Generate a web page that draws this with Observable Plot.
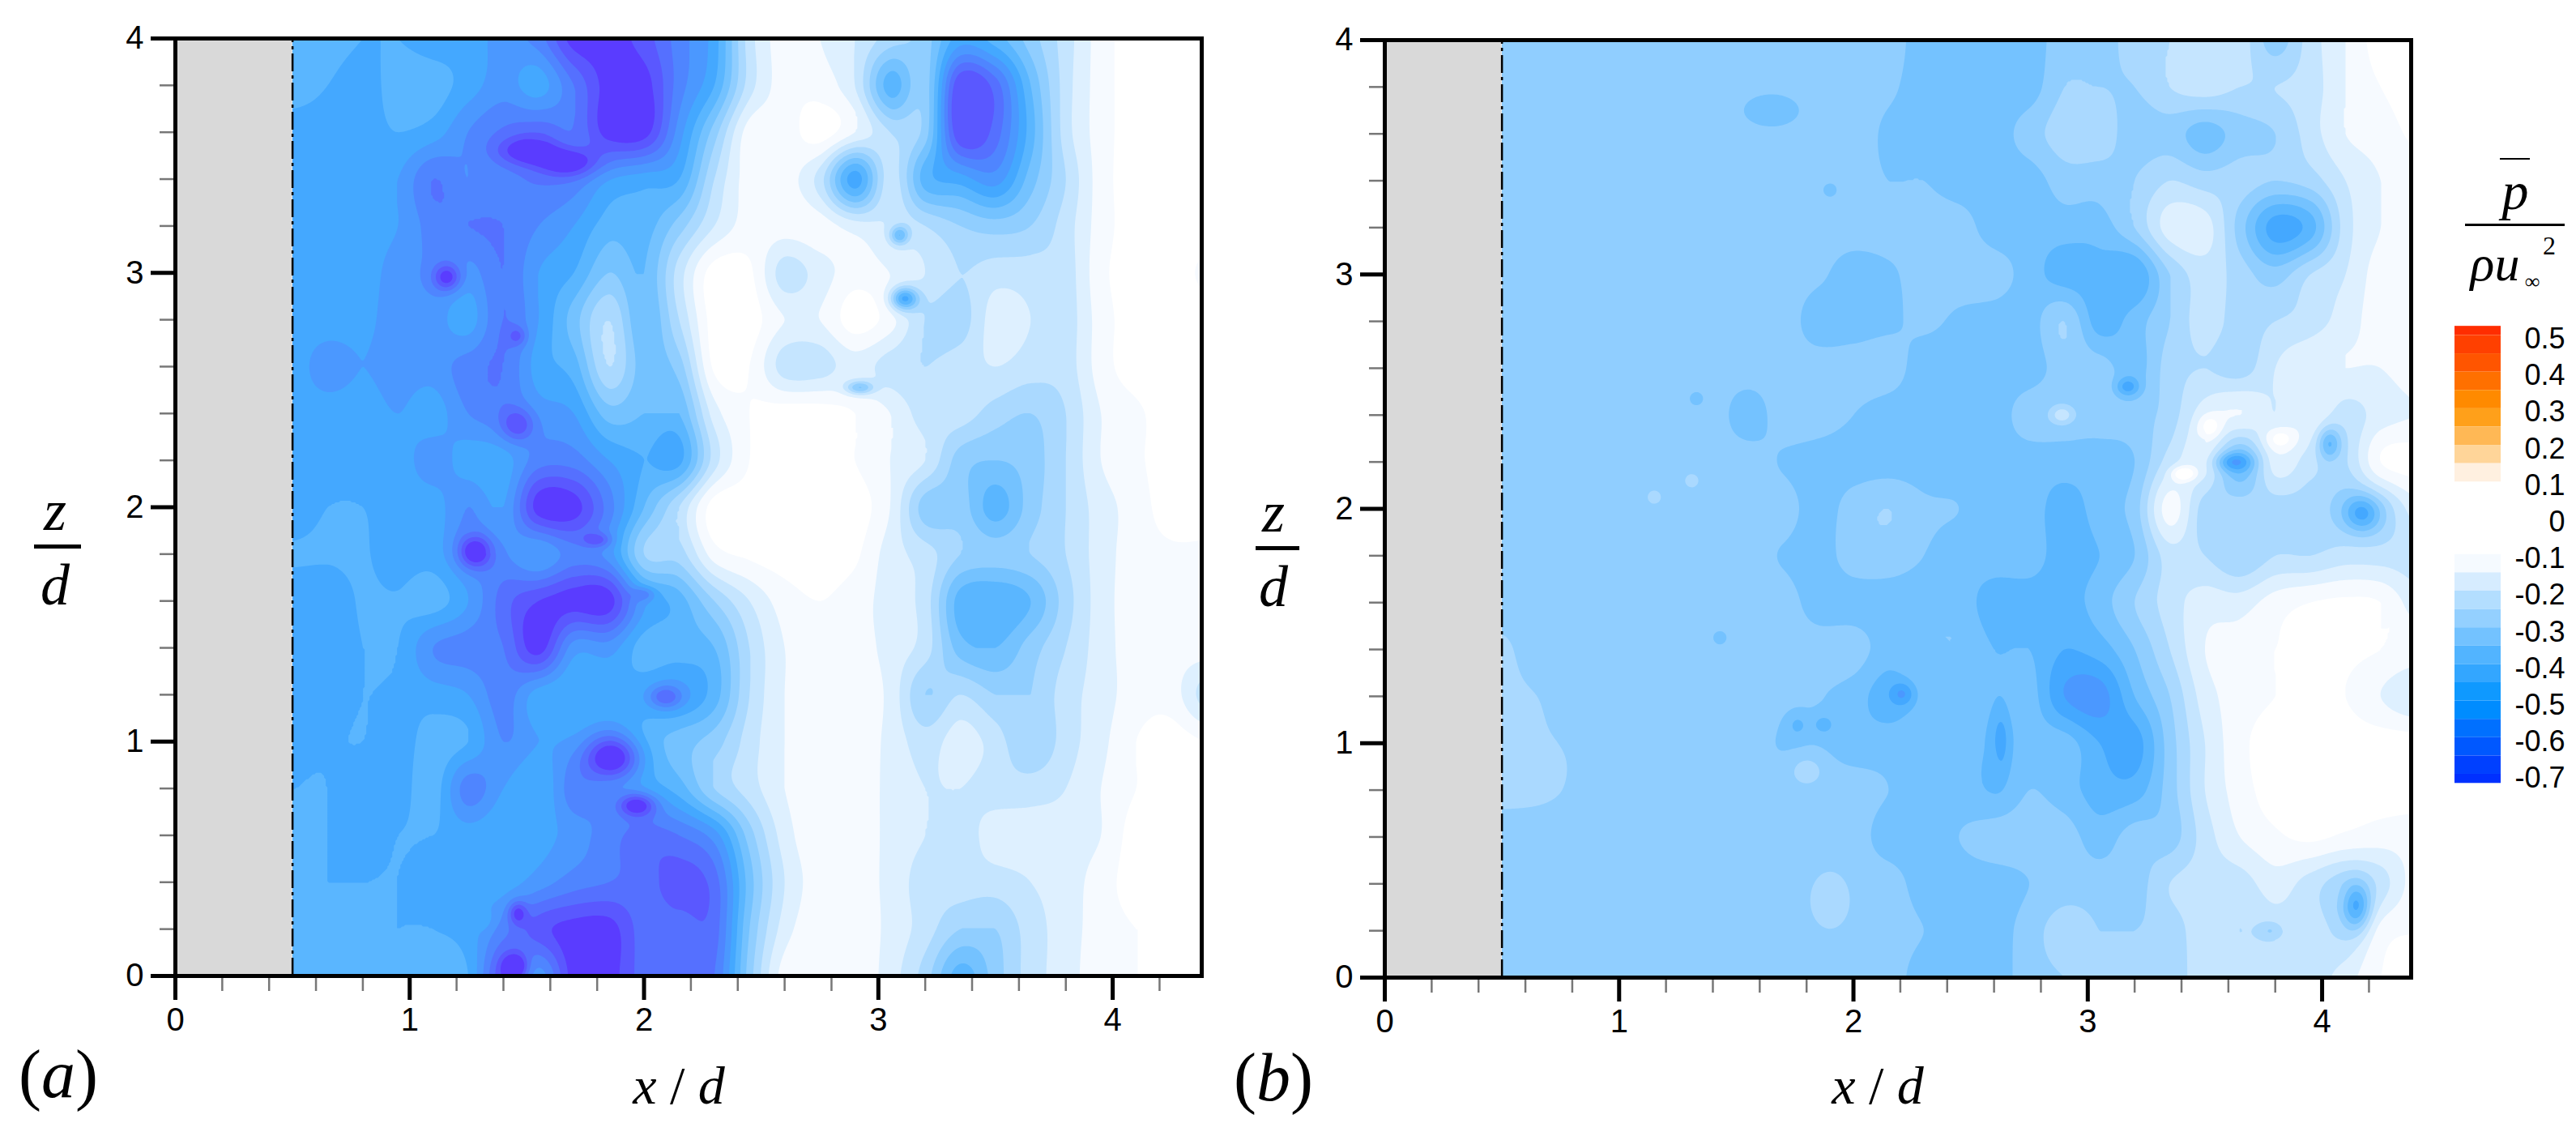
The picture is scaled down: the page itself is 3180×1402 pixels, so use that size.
<!DOCTYPE html>
<html><head><meta charset="utf-8">
<script src="https://cdn.jsdelivr.net/npm/d3@7"></script>
<script src="https://cdn.jsdelivr.net/npm/@observablehq/plot@0.6"></script>
<style>
html,body{margin:0;padding:0;background:#fff}
#page{position:relative;width:3180px;height:1402px;overflow:hidden;background:#fff}
#page svg{position:absolute;background:transparent;overflow:visible}
.t{position:absolute;font-family:"Liberation Serif",serif;font-style:italic;color:#000;white-space:pre;line-height:1;transform:translate(-50%,-50%)}
.bar{position:absolute;background:#000}
</style></head><body><div id="page"></div>
<script>
const gridX = [.5,.65,.8,.95,1.1,1.25,1.4,1.55,1.7,1.85,2,2.15,2.3,2.45,2.6,2.75,2.9,3.05,3.2,3.35,3.5,3.65,3.8,3.95,4.1,4.25,4.4];
const gridZ = [4,3.8,3.6,3.4,3.2,3,2.8,2.6,2.4,2.2,2,1.8,1.6,1.4,1.2,1,.8,.6,.4,.2,0];
// Panel (a): contour band number at each grid point (pressure = -0.05 x band), rows from z=4 down
const panelA = [
[7,7,7.5,7.5,8,8,9,10,13,13,12,10,8,3,1,1.5,2.5,4,5,8,7,5,3,1,0,0,0],
[7,7.5,8,7,7,8,9,8,10.5,13,13,10,7.5,3,1,1,2.5,7,5,12.5,11,6.5,3,1,0,0,0],
[8,8,8,7.5,8,9.5,10.5,11,10.5,13,13,9,5,1,1,0,1.5,3.5,5,12.5,11,7,3,1,0,0,0],
[8,8,8,8.5,10.5,9.5,10,10.5,10,8.5,8,7.5,3.5,1,1,3,8,3,7,8,9,6,3.5,1,0,0,0],
[8,8,8,8.5,10,10.5,10.5,9.5,8.5,7,7,5,2.5,1,1,1,2,2.5,3.5,4.5,5,4.5,3,1,0,0,0],
[8,8,8,9,9.5,9,10.5,8.5,7.5,5.5,6.5,3,0,.3,3,2,1,1.5,2.5,3.5,3,3,3,.8,0,0,.7],
[8,8,8.2,9,9,8,10.5,8.5,6,3.5,6.5,3.5,0,0,1.5,1.5,0,1,3.5,4,2,2.5,3,1,0,0,0],
[8,9,8.5,9,9,10,10.5,8,7,3.5,6,5,.3,.5,3,3,2,3,3.5,3,2.5,3,3,1,0,0,0],
[8,8,8,8.5,8,9.5,10,9,8.5,6,6.5,6.5,2,.5,0,0,.5,1.5,3,3,4,4.5,3.5,1.5,.7,0,0],
[8,8,8,8,9,8,8,10,10,8.5,7.5,7.8,3,.5,0,0,.5,1.5,2.5,5,5.5,5,3.5,1.5,.7,0,0],
[8,7.5,7.5,8,8,9.5,8.5,13,13,10,6.5,3.5,0,0,0,0,0,1.5,5,5,7,5,3.5,2,1,0,0],
[7.4,7.4,7.4,8,8,9.5,9.5,8.5,10,9,4.5,4,1,.3,0,0,.3,2,3,4.5,5,4.5,3.5,2,1,.7,.7],
[8,8,7.4,7.4,7,8.5,11,12.5,13,13,8.5,7,4.5,2.5,1,.5,1,2,3,7,7.5,6.5,4,2,1,1,1],
[8,8,7.5,7.5,9.5,10,10.5,13,9,9,7,7,6.5,3.5,1.5,1,1,1.9,3,6,6.5,5,3.5,2,1,1,1],
[8,8,7.5,7.7,8,8.5,10,8,7.5,7.5,8,8.5,7,3.5,1.5,.8,.8,1.8,4.5,3.5,4.5,4.5,3,2,1,1,3],
[7.7,7.6,7.5,8,7,7.5,9.5,8.5,8.5,9,7,6,5,3,1.5,.8,.8,1.8,3,2,3,4.5,3,1.8,.5,0,.5],
[7.5,7.5,8,8,7,10,8.5,7.5,10,9,8,7,4.5,3,1.5,.8,.8,1.8,2.5,2.5,3,3,2.5,1.5,.5,0,0],
[7.5,7.5,8,7.5,7.5,8,7.5,8,9,10,11,10.5,9,5,2,.8,.8,1.8,2.5,3,2,2,2,1.5,0,0,0],
[7.5,7.5,7.5,7.5,8,8,8,9,10,10.5,11,12,11,6,2.5,1,1,1.8,3,3,3,2.5,2,1,0,0,.5],
[7.5,7.5,7.5,7.5,7.5,8,10,12,13,13,11,11,11,5.5,2,.8,.8,1.8,3,4.5,4.5,3,2,1,.5,.5,.5],
[7.5,7.5,7.5,7.5,7,7.5,12,9,13,13,11,10.5,10.5,5,1,.8,.8,2,4,7,5,3,2,.8,.5,.5,.5]
];
// Panel (b), same grid and same band numbers
const panelB = [
[5,5,5,5,5,5,5,5,5,5,5,5,6,6,6,6,5,5,4,3.5,3.5,3,5,3,1.5,0,0],
[5,5,5,5,5,5,5,5,5,5,5,5.3,6,6,6,6,4.5,4.5,4.5,3.5,3,3.5,3.5,3,1.5,.5,0],
[5,5,5,5,5,5,5,5,5,5,5,5.7,6,6,6,5,4,4,5,5,6,5,4.5,3,1.5,1,.3],
[5,5,5,5,5,5,5,5,5,5,5,5.5,5.5,6,6,6,5,5,4.5,3.5,4,4,4.5,4,2.5,1.5,1],
[5,5,5,5,5,5,5,5,5,5,5,5,5,5,6,6,6,6,4.5,2,2,5,8,7,3,1.5,.7],
[5,5,5,5,5,5,5,5,5,5.3,6,5.7,5,5,5,6,7,7,7.5,4.5,3,4,5,3.5,2.5,1,1],
[5,5,5,5,5,5,5,5,5,6,6,5.7,5.3,5.7,6,6,4.5,7,6,4.5,3,4,3.5,3,2,1,1],
[5,5,5,5,5,5,5,5,5,5,5,5,6,6,6,6,5,5,6,4,3.5,4,2.5,1.5,1.5,1.5,1],
[5,5,5,5,5,5,5,6,5,5,5.5,6,6,6,6,5,5,5,5,4,2,1.5,2.5,1.5,3,2,1.5],
[5,5,5,5,5,5,5,5,5.6,6,6,6,6,6,6,6,6,6,5.5,3,2,6,2,3,3.5,.5,0],
[5,5,5,5,5,5,5,5,5,6,5,4.5,5.3,5.5,6,6,7,6,5,1,4,4,4,4,4.5,4,2],
[5,5,5,5,5,5,5,5,5.6,6,5,5,5.5,6,6,6,7,6.5,5.5,3,3.5,4.5,3.5,3.5,3,3,3],
[5,5,5,5,5,5,5,5,5,6,6,6,6,6,7,7,7,6,4.5,3,2,2,1,.5,.3,.5,2],
[4.3,5,5,5,5,5,5,5,5,5,5,6,5.5,5.5,6.5,6.5,7.5,7,5.5,3.5,1.5,1,.5,.3,.3,.5,1],
[4.3,4.5,5,5,5,5,5,5,5,5.4,6,7,6,6,6.2,6,8.5,9,6.5,4.5,2,1,.5,.3,.5,1.5,2.5],
[4.3,4.4,4.6,5,5,5,5,5,5.6,5.6,6,6,6,6,6.5,6,6,7.5,8,5,2.5,.8,0,0,0,0,0],
[4.2,4.3,4.6,5,5,5,5,5,5,5,5,5.5,6,6,6.5,5.5,6,7,7,5,2.5,1,0,0,0,0,0],
[5,5,5,5,5,5,5,5,5,5,5,6,6,5.5,5,5,5,6,5,5,3,1.5,.7,.3,.7,1,1],
[5,5,5,5,5,5,5,5,5,5,5,5,6,6,6,5.5,5,5,5,3.5,3,3,2,3,4,3,1],
[5,5,5,5,5,5,5,5,5,5,5,5,5.5,6,6,5,4,4.5,4.5,4,3,3.5,3,3,3.5,1,.5],
[5,5,5,5,5,5,5,5,5,5,5,5,6,6,6,5,4.5,4.5,4,4,3,3,3,3,2,.5,.3]
];
// Small closed features too narrow for the grid: x, z, x radius, z radius, band change
const spotsA = [
[1.16,2.98,.06,.06,4],[1.28,1.81,.07,.07,4.5],[1.87,.93,.12,.09,5],[1.97,.73,.08,.05,4.5],
[3.11,2.89,.06,.05,6],[3.09,3.16,.04,.04,4],[2.92,2.51,.06,.03,4],[1.45,.04,.05,.05,4],
[1.5,3.52,.13,.06,3],[1.68,3.47,.12,.06,3.5],[2.09,1.19,.07,.05,3],[1.46,2.73,.04,.04,2],[1.46,2.35,.07,.07,3],
[1.8,1.86,.06,.03,2.5],[2,1.63,.05,.03,2],[1.46,.27,.04,.05,3],[1.31,.24,.04,.04,-1]
];
const spotsB = [
[1.65,3.7,.12,.07,1.3],[3.62,2.2,.08,.04,3],[1.9,.33,.09,.13,-1.2],[1.8,.89,.08,.07,-1.2],
[1.33,2.47,.03,.03,1.2],[1.31,2.12,.03,.03,-1.2],[1.15,2.05,.03,.03,-1.2],[1.43,1.45,.03,.03,1.2],
[1.9,3.36,.03,.03,1.2],[2.21,1.21,.05,.05,2],[2.63,1.02,.04,.15,1.5],[1.76,1.08,.05,.06,1.2],[1.87,1.08,.05,.05,1.2],
[3.17,2.52,.05,.04,2.5],[2.89,2.4,.05,.04,-2.2],[3.52,2.35,.05,.05,-2],[3.82,2.3,.07,.05,-2],[4.03,2.28,.05,.07,3.5],
[3.41,2.15,.05,.03,-3],[4.17,1.98,.08,.08,3.5],[4.15,.3,.06,.1,4],[3.78,.2,.05,.04,1.5]
];
const bandColors = ["#ffffff","#f6faff","#def0ff","#c5e5ff","#aad9ff","#90ceff","#74c2ff","#5ab6ff","#44a8ff","#4b98ff","#4f85ff","#5570ff","#5a58ff","#5a3cff"];
const xMax = 4.38;
const xMajor = [0,1,2,3,4];
const xMinor = [.2,.4,.6,.8,1.2,1.4,1.6,1.8,2.2,2.4,2.6,2.8,3.2,3.4,3.6,3.8,4.2];
const zMajor = [0,1,2,3,4];
const zMinor = [.2,.4,.6,.8,1.2,1.4,1.6,1.8,2.2,2.4,2.6,2.8,3.2,3.4,3.6,3.8];
const gray = [{x1:0,x2:.5,y1:0,y2:4}];
// Colour bar: band edges as drawn and their colours, with the printed labels
const warmEdges = [.535,.51,.46,.41,.36,.31,.26,.21,.16,.11];
const warmColors = ["#ff2d00","#ff4000","#ff5500","#ff7000","#ff8a00","#ffa01a","#ffb855","#ffd599","#fff0e0"];
const coldEdges = [-.088,-.138,-.188,-.238,-.288,-.338,-.388,-.438,-.488,-.538,-.588,-.638,-.688,-.713];
const coldColors = ["#f5faff","#d6ecff","#b3deff","#94d0ff","#73c2ff","#52b4ff","#33a6ff","#0f99ff","#008cff","#0070ff","#0058ff","#0040ff","#0030ff"];
const barLabels = [.5,.4,.3,.2,.1,0,-.1,-.2,-.3,-.4,-.5,-.6,-.7];

function bandsOf(edges, colors){return colors.map((c,i)=>({y1:edges[i],y2:edges[i+1],c}));}
const bandThresholds = [-5,...d3.range(13,0,-1).map(k=>-0.05*(k-.5))];
const colorScale = {type:"threshold",domain:bandThresholds.slice(1),range:bandColors.slice().reverse()};

function cr(a,b,c,d,t){return b+.5*t*(c-a+t*(2*a-5*b+4*c-d+t*(3*(b-c)+d-a)));}
function field(rows,spots){
  const nx=gridX.length,nz=gridZ.length,dx=.15,dz=.2;
  return (x,z)=>{
    const fx=Math.min(nx-1.001,Math.max(0,(x-.5)/dx)),fz=Math.min(nz-1.001,Math.max(0,(4-z)/dz));
    const i=Math.floor(fx),j=Math.floor(fz),tx=fx-i,tz=fz-j;
    const row=r=>{const R=rows[Math.max(0,Math.min(nz-1,r))],g=k=>R[Math.max(0,Math.min(nx-1,k))];return cr(g(i-1),g(i),g(i+1),g(i+2),tx);};
    let v=cr(row(j-1),row(j),row(j+1),row(j+2),tz);
    const c=[rows[j][i],rows[j][i+1],rows[j+1][i],rows[j+1][i+1]];
    v=Math.max(Math.min(...c),Math.min(Math.max(...c),v));
    for(const [sx,sz,rx,rz,d] of spots){const a=(x-sx)/rx,b=(z-sz)/rz;v+=d*Math.exp(-(a*a+b*b));}
    return -0.05*v;
  };
}
const sans="'Liberation Sans',Arial,sans-serif";
function panel(rows,spots,left,right,top,bottom){
  return Plot.plot({
    width:right+20,height:bottom+100,
    marginLeft:left,marginRight:20,marginTop:top,marginBottom:100,
    x:{domain:[0,xMax],label:null,axis:null},y:{domain:[0,4],label:null,axis:null},
    color:colorScale,style:{background:"transparent",overflow:"visible",fontFamily:sans},
    marks:[
      Plot.contour({x1:.5,x2:xMax,y1:0,y2:4,value:field(rows,spots),thresholds:bandThresholds,fill:"value",stroke:"none",pixelSize:2}),
      Plot.rect(gray,{x1:"x1",x2:"x2",y1:"y1",y2:"y2",fill:"#d9d9d9"}),
      Plot.ruleX([.5],{y1:0,y2:4,stroke:"#000",strokeWidth:2.5,strokeDasharray:"22,5,4,5"}),
      Plot.axisX({anchor:"bottom",ticks:xMinor,tickSize:19,tickFormat:()=>"",stroke:"#777",strokeWidth:2.5,label:null}),
      Plot.axisY({anchor:"left",ticks:zMinor,tickSize:19,tickFormat:()=>"",stroke:"#777",strokeWidth:2.5,label:null}),
      Plot.axisX({anchor:"bottom",ticks:xMajor,tickSize:30,tickPadding:9,tickFormat:d3.format("d"),stroke:"#000",strokeWidth:5,label:null,fontSize:40,fontFamily:sans,fill:"#000"}),
      Plot.axisY({anchor:"left",ticks:zMajor,tickSize:30,tickPadding:9,tickFormat:d3.format("d"),stroke:"#000",strokeWidth:5,label:null,fontSize:40,fontFamily:sans,fill:"#000"}),
      Plot.frame({stroke:"#000",strokeWidth:5})
    ]});
}
const page=document.getElementById("page");
const plotA=panel(panelA,spotsA,216,1483,47,1204);plotA.style.left="0px";plotA.style.top="0px";page.appendChild(plotA);
const plotB=panel(panelB,spotsB,1709-1500,2976-1500,49,1206);plotB.style.left="1500px";plotB.style.top="0px";page.appendChild(plotB);

const barPlot=Plot.plot({
  width:180,height:600,marginLeft:30,marginRight:93,marginTop:0,marginBottom:0,
  x:{domain:[0,1],axis:null},y:{domain:[.5398,-.7876],range:[0,600],axis:null},
  color:{type:"identity"},style:{background:"transparent",overflow:"visible",fontFamily:sans},
  marks:[
    Plot.rect(bandsOf(warmEdges,warmColors).concat(bandsOf(coldEdges,coldColors)),{x1:0,x2:1,y1:"y1",y2:"y2",fill:"c"}),
    Plot.text(barLabels,{x:1,y:d=>d,text:d=>d===0?"0":(d<0?"-":"")+Math.abs(d).toFixed(1),dx:79,textAnchor:"end",fontSize:36,fontFamily:sans,fill:"#000"})
  ]});
barPlot.style.left="3000px";barPlot.style.top="400px";page.appendChild(barPlot);

function label(html,x,y,size,extra){const d=document.createElement("div");d.className="t";d.innerHTML=html;d.style.left=x+"px";d.style.top=y+"px";d.style.fontSize=size+"px";if(extra)d.style.cssText+=extra;page.appendChild(d);}
function rule(x,y,w,h){const d=document.createElement("div");d.className="bar";d.style.cssText=`left:${x}px;top:${y}px;width:${w}px;height:${h}px`;page.appendChild(d);}
const up="font-style:normal;";
label("(<i>a</i>)",72,1326,84,up);
label("(<i>b</i>)",1572,1330,84,up);
label("<i>x</i> / <i>d</i>",838,1340,66,up);
label("<i>x</i> / <i>d</i>",2318,1340,66,up);
label("z",68,630,72);rule(42,672,58,5);label("d",68,722,72);
label("z",1572,632,72);rule(1550,674,54,5);label("d",1572,724,72);
rule(3086,195,37,2);label("p",3105,236,66);rule(3043,276,123,3);
label("ρu",3080,325,62);label("∞",3126,348,26,"font-style:normal;");label("2",3147,303,32,"font-style:normal;");
</script></body></html>
